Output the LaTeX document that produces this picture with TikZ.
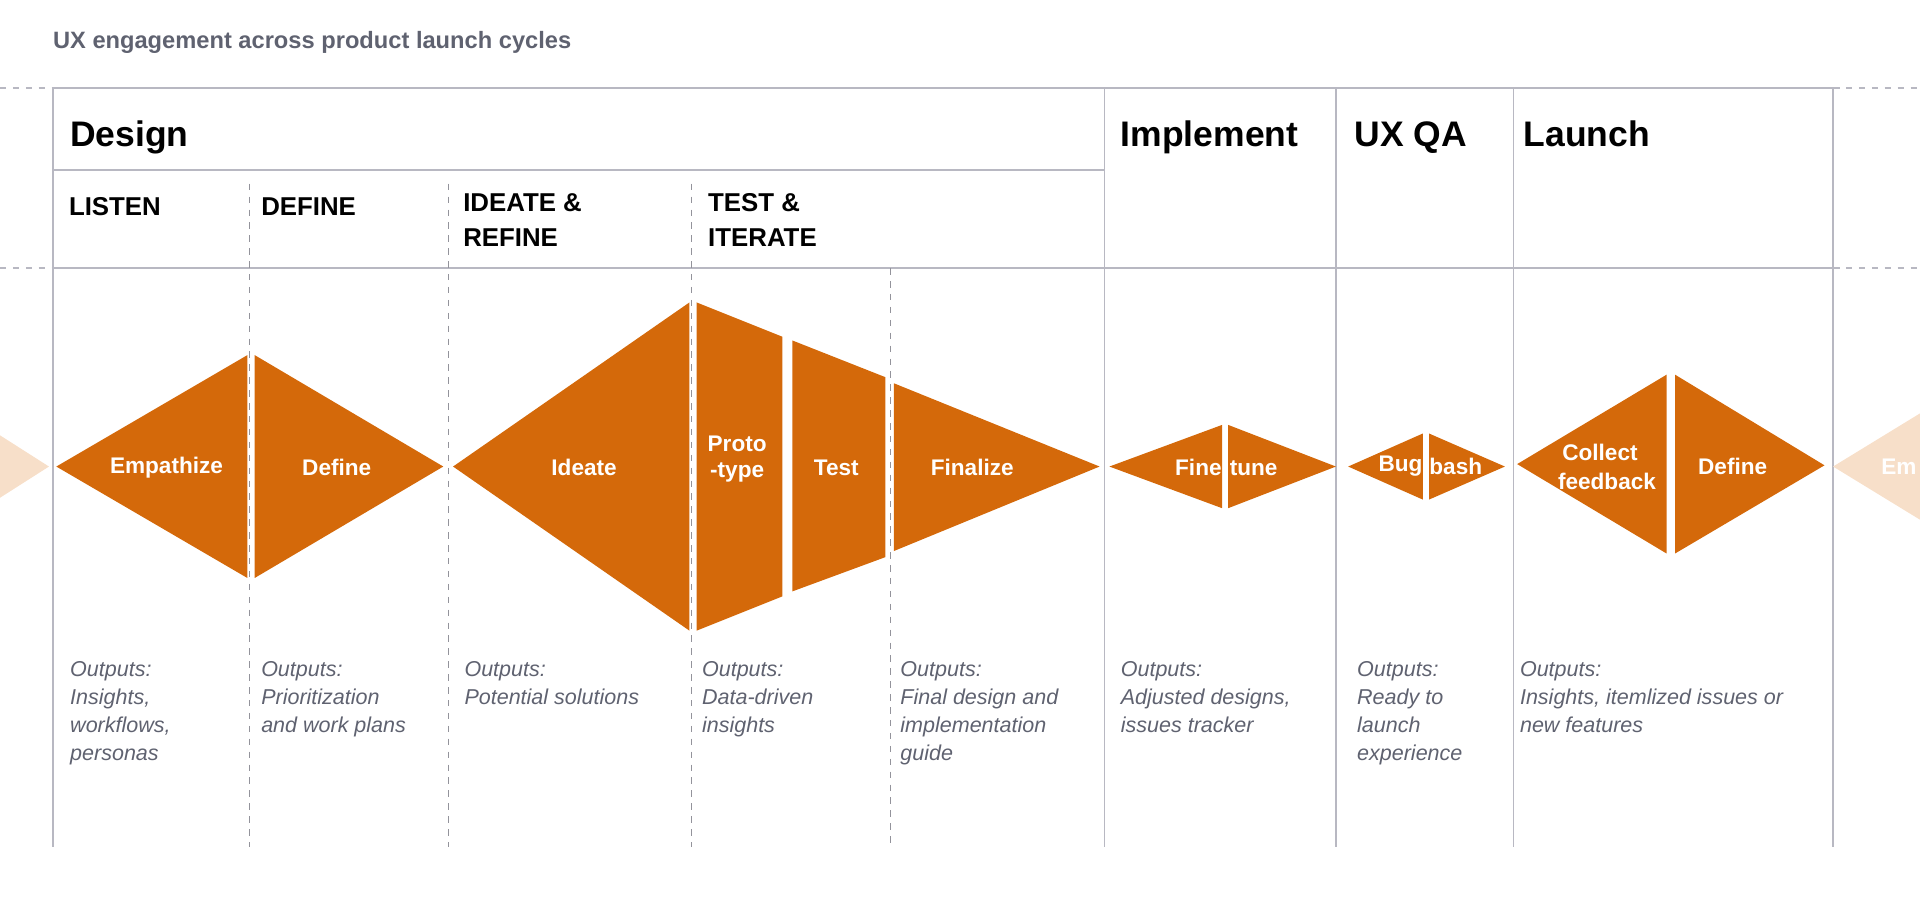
\documentclass[tikz,border=0pt]{standalone}
\usepackage{fontspec}
\setmainfont{Liberation Sans}
\definecolor{uxorange}{HTML}{D4690A}
\definecolor{uxfade}{HTML}{F7DFC9}
\definecolor{uxgrey}{HTML}{5F6270}
\definecolor{uxline}{HTML}{B8B8C2}
\tikzset{
  phase/.style={anchor=base west, inner sep=0pt, font=\fontsize{16.5}{20}\selectfont\bfseries},
  stage/.style={anchor=base west, inner sep=0pt, align=left, font=\fontsize{12}{16}\selectfont\bfseries},
  shape lbl/.style={text=white, align=center, font=\fontsize{10.5}{12}\selectfont\bfseries},
  output/.style={anchor=north west, inner sep=0pt, align=left, text=uxgrey, font=\fontsize{10}{13}\selectfont\itshape},
  grid/.style={uxline, line width=0.8pt},
  sub grid/.style={uxline!80!black, dashed, line width=0.6pt},
}
\begin{document}
\begin{tikzpicture}[x=0.02cm, y=-0.02cm]
		\useasboundingbox (0,0) rectangle (1568,745);
		\clip (0,0) rectangle (1568,745);
		
		% title
		\node[anchor=base west, inner sep=0pt, text=uxgrey, font=\fontsize{11}{14}\selectfont\bfseries] (title) at (43,40) {UX engagement across product launch cycles};
		
		% horizontal rules
		\draw[grid] (43,72) -- (1497,72);
		\draw[grid] (43,219) -- (1497,219);
		\draw[grid] (43,139) -- (902,139);
		\draw[uxline, dashed, line width=1.2pt] (0,72) -- (43,72);
		\draw[uxline, dashed, line width=1.2pt] (1497,72) -- (1568,72);
		\draw[uxline, dashed, line width=1.2pt] (0,219) -- (43,219);
		\draw[uxline, dashed, line width=1.2pt] (1497,219) -- (1568,219);
		
		% vertical rules
		\foreach \x in {43,902,1091,1236,1497}
			\draw[grid] (\x,72) -- (\x,692);
		\foreach \x in {204,366,565}
			\draw[sub grid] (\x,150) -- (\x,692);
		\draw[sub grid] (727,219) -- (727,692);
		
		% phases
		\node[phase] (design) at (57,120) {Design};
		\node[phase] (implement) at (915,120) {Implement};
		\node[phase] (uxqa) at (1106,120) {UX QA};
		\node[phase] (launch) at (1244,120) {Launch};
		
		% stages
		\node[stage] (listen) at (56,176) {LISTEN};
		\node[stage] (define) at (213,176) {DEFINE};
		\node[stage, anchor=north west] (ideate) at (378,158) {IDEATE \&\\REFINE};
		\node[stage, anchor=north west] (testit) at (578,158) {TEST \&\\ITERATE};
		
		% faded ends
		\fill[uxfade] (-40,330) -- (40,381) -- (-40,432) -- cycle;
		\fill[uxfade] (1497,381) -- (1600,318) -- (1600,444) -- cycle;
		\node[text=white, anchor=west, inner sep=0pt, font=\fontsize{10.5}{12}\selectfont\bfseries] (emfade) at (1536,381) {Em};
		
		% shapes
		\fill[uxorange] (46,381) -- (202,290) -- (202,472) -- cycle;
		\fill[uxorange] (208,290) -- (362,381) -- (208,472) -- cycle;
		\fill[uxorange] (370,381) -- (563,247) -- (563,515) -- cycle;
		\fill[uxorange] (569,247) -- (639,275) -- (639,487) -- (569,515) -- cycle;
		\fill[uxorange] (647,278) -- (723,308) -- (723,455) -- (647,483) -- cycle;
		\fill[uxorange] (730,313) -- (898,381) -- (730,450) -- cycle;
		\fill[uxorange] (906,381) -- (998,347) -- (998,415) -- cycle;
		\fill[uxorange] (1003,347) -- (1091,381) -- (1003,415) -- cycle;
		\fill[uxorange] (1101,381) -- (1162,354) -- (1162,408) -- cycle;
		\fill[uxorange] (1167,354) -- (1229,381) -- (1167,408) -- cycle;
		\fill[uxorange] (1239,379) -- (1361,306) -- (1361,452) -- cycle;
		\fill[uxorange] (1368,306) -- (1490,380) -- (1368,452) -- cycle;
		
		% shape labels
		\node[shape lbl] (empathize) at (136,382) {Empathize};
		\node[shape lbl] (definelbl) at (275,382) {Define};
		\node[shape lbl] (ideatelbl) at (477,382) {Ideate};
		\node[shape lbl] (proto) at (602,375) {Proto\\-type};
		\node[shape lbl] (test) at (683,382) {Test};
		\node[shape lbl] (finalize) at (794,382) {Finalize};
		\node[shape lbl, anchor=east, inner sep=0pt] (fine) at (998,382) {Fine};
		\node[shape lbl, anchor=west, inner sep=0pt] (tune) at (1004,382) {tune};
		\node[shape lbl, anchor=east, inner sep=0pt] (bug) at (1162,381) {Bug};
		\node[shape lbl, anchor=west, inner sep=0pt] (bash) at (1167,381) {bash};
		\node[shape lbl, anchor=west, inner sep=0pt, align=left, font=\fontsize{10.5}{13.5}\selectfont\bfseries] (collect) at (1272,381) {\hspace*{2pt}Collect\\feedback};
		\node[shape lbl] (define2) at (1415,381) {Define};
		
		% outputs
		\node[output] (out1) at (57,540) {Outputs:\\Insights,\\workflows,\\personas};
		\node[output] (out2) at (213,540) {Outputs:\\Prioritization\\and work plans};
		\node[output] (out3) at (379,540) {Outputs:\\Potential solutions};
		\node[output] (out4) at (573,540) {Outputs:\\Data-driven\\insights};
		\node[output] (out5) at (735,540) {Outputs:\\Final design and\\implementation\\guide};
		\node[output] (out6) at (915,540) {Outputs:\\Adjusted designs,\\issues tracker};
		\node[output] (out7) at (1108,540) {Outputs:\\Ready to\\launch\\experience};
		\node[output] (out8) at (1241,540) {Outputs:\\Insights, itemlized issues or\\new features};
		
	\end{tikzpicture}
\end{document}
